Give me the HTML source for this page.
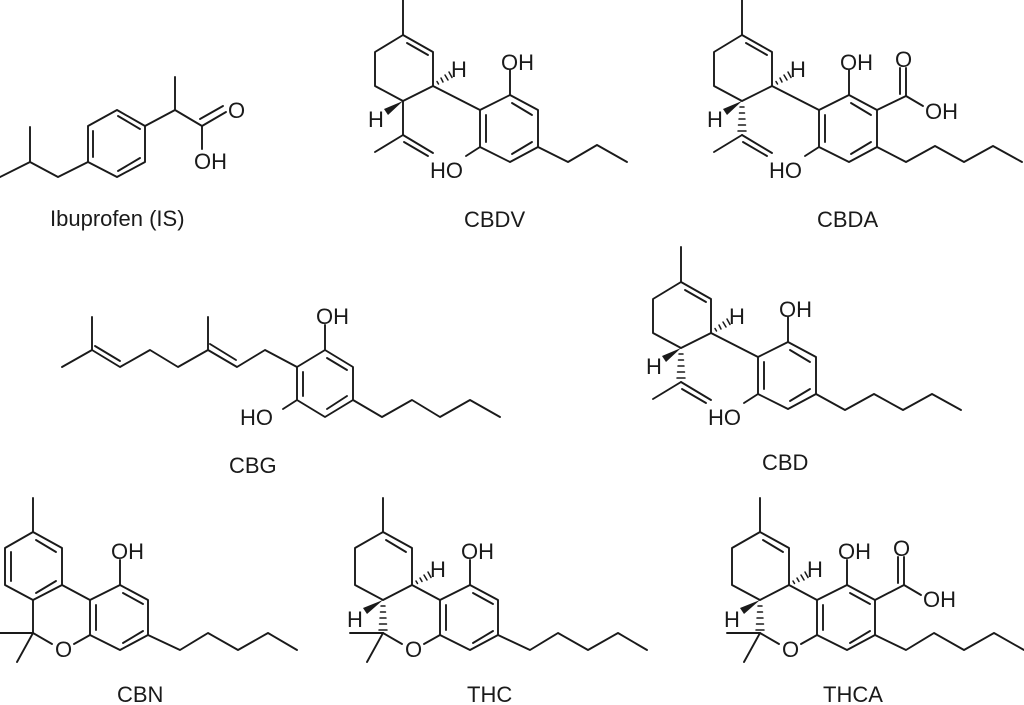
<!DOCTYPE html>
<html><head><meta charset="utf-8"><style>
html,body{margin:0;padding:0;background:#fff;}
svg{display:block;}
text{font-family:"Liberation Sans",Arial,sans-serif;fill:#1a1a1a;}
.a{font-size:22px;}
.l{font-size:22px;}
</style></head><body>
<svg width="1024" height="705" viewBox="0 0 1024 705" xmlns="http://www.w3.org/2000/svg">
<g stroke="#1a1a1a" stroke-width="1.9" fill="none" stroke-linejoin="round" stroke-linecap="round">
<polygon points="88,126 117,110 145,126 145,162 117,177 88,162"/>
<line x1="93" y1="131" x2="93" y2="157"/>
<line x1="118" y1="116" x2="140" y2="129"/>
<line x1="118" y1="171" x2="140" y2="158"/>
<polyline points="88,162 58,177 30,162 30,127"/>
<line x1="30" y1="162" x2="0" y2="177"/>
<polyline points="145,126 175,110 202,126"/>
<line x1="175" y1="110" x2="175" y2="77"/>
<line x1="202" y1="126" x2="226" y2="112"/>
<line x1="200" y1="119" x2="223" y2="106"/>
<line x1="202" y1="126" x2="202" y2="149"/>
</g>
<text class="a" x="228" y="118">O</text>
<text class="a" x="194" y="169">OH</text>
<text class="l" x="50" y="226">Ibuprofen (IS)</text>

<g>
<g stroke="#1a1a1a" stroke-width="1.9" fill="none" stroke-linejoin="round" stroke-linecap="round">
<polyline points="403,0 403,35"/>
<polygon points="403,35 433,52 433,86 403,101 375,86 375,52"/>
<line x1="407" y1="43" x2="428" y2="55"/>
<line x1="403" y1="101" x2="403" y2="135"/>
<line x1="403" y1="135" x2="375" y2="152"/>
<line x1="403" y1="135" x2="433" y2="153"/>
<line x1="404" y1="142" x2="428" y2="156"/>
<line x1="433" y1="86" x2="480" y2="110"/>
<polygon points="480,110 510,95 538,110 538,147 510,162 480,147"/>
<line x1="512" y1="103" x2="532" y2="115"/>
<line x1="532" y1="142" x2="512" y2="154"/>
<line x1="486" y1="115" x2="486" y2="142"/>
<line x1="510" y1="95" x2="510" y2="70"/>
<line x1="480" y1="147" x2="466" y2="156"/>
<polyline points="538,147 568,162 597,145 627,162"/>
<g stroke-width="1.5"><line x1="437" y1="81.5" x2="438.5" y2="84"/><line x1="441" y1="78" x2="443" y2="82"/><line x1="445" y1="75" x2="448" y2="80"/><line x1="449" y1="72" x2="452" y2="77.5"/></g>
</g>
<polygon points="403,101 384,109 388,115" fill="#1a1a1a"/>
<text class="a" x="451" y="77">H</text>
<text class="a" x="368" y="127">H</text>
<text class="a" x="501" y="70">OH</text>
<text class="a" x="430" y="178">HO</text>
</g>
<text class="l" x="464" y="227">CBDV</text>

<g transform="translate(339,0)">
<g stroke="#1a1a1a" stroke-width="1.9" fill="none" stroke-linejoin="round" stroke-linecap="round">
<polyline points="403,0 403,35"/>
<polygon points="403,35 433,52 433,86 403,101 375,86 375,52"/>
<line x1="407" y1="43" x2="428" y2="55"/>
<g stroke-width="1.5"><line x1="401" y1="107" x2="405" y2="107"/><line x1="400.5" y1="113" x2="405.5" y2="113"/><line x1="400" y1="119" x2="406" y2="119"/><line x1="399.5" y1="125" x2="406.5" y2="125"/><line x1="399" y1="131" x2="407" y2="131"/></g>
<line x1="403" y1="135" x2="375" y2="152"/>
<line x1="403" y1="135" x2="433" y2="153"/>
<line x1="404" y1="142" x2="428" y2="156"/>
<line x1="433" y1="86" x2="480" y2="110"/>
<polygon points="480,110 510,95 538,110 538,147 510,162 480,147"/>
<line x1="512" y1="103" x2="532" y2="115"/>
<line x1="532" y1="142" x2="512" y2="154"/>
<line x1="486" y1="115" x2="486" y2="142"/>
<line x1="510" y1="95" x2="510" y2="70"/>
<line x1="480" y1="147" x2="466" y2="156"/>
<line x1="538" y1="110" x2="567" y2="96"/>
<line x1="567" y1="96" x2="567" y2="68"/>
<line x1="561" y1="94" x2="561" y2="68"/>
<line x1="567" y1="96" x2="584" y2="106"/>
<polyline points="538,147 567,162 596,146 625,162 654,146 683,162"/>
<g stroke-width="1.5"><line x1="437" y1="81.5" x2="438.5" y2="84"/><line x1="441" y1="78" x2="443" y2="82"/><line x1="445" y1="75" x2="448" y2="80"/><line x1="449" y1="72" x2="452" y2="77.5"/></g>
</g>
<polygon points="403,101 384,109 388,115" fill="#1a1a1a"/>
<text class="a" x="451" y="77">H</text>
<text class="a" x="368" y="127">H</text>
<text class="a" x="501" y="70">OH</text>
<text class="a" x="430" y="178">HO</text>
<text class="a" x="556" y="67">O</text>
<text class="a" x="586" y="119">OH</text>
</g>
<text class="l" x="817" y="227">CBDA</text>

<g transform="translate(278,247)">
<g stroke="#1a1a1a" stroke-width="1.9" fill="none" stroke-linejoin="round" stroke-linecap="round">
<polyline points="403,0 403,35"/>
<polygon points="403,35 433,52 433,86 403,101 375,86 375,52"/>
<line x1="407" y1="43" x2="428" y2="55"/>
<g stroke-width="1.5"><line x1="401" y1="107" x2="405" y2="107"/><line x1="400.5" y1="113" x2="405.5" y2="113"/><line x1="400" y1="119" x2="406" y2="119"/><line x1="399.5" y1="125" x2="406.5" y2="125"/><line x1="399" y1="131" x2="407" y2="131"/></g>
<line x1="403" y1="135" x2="375" y2="152"/>
<line x1="403" y1="135" x2="433" y2="153"/>
<line x1="404" y1="142" x2="428" y2="156"/>
<line x1="433" y1="86" x2="480" y2="110"/>
<polygon points="480,110 510,95 538,110 538,147 510,162 480,147"/>
<line x1="512" y1="103" x2="532" y2="115"/>
<line x1="532" y1="142" x2="512" y2="154"/>
<line x1="486" y1="115" x2="486" y2="142"/>
<line x1="510" y1="95" x2="510" y2="70"/>
<line x1="480" y1="147" x2="466" y2="156"/>
<polyline points="538,147 567,163 596,147 625,163 654,147 683,163"/>
<g stroke-width="1.5"><line x1="437" y1="81.5" x2="438.5" y2="84"/><line x1="441" y1="78" x2="443" y2="82"/><line x1="445" y1="75" x2="448" y2="80"/><line x1="449" y1="72" x2="452" y2="77.5"/></g>
</g>
<polygon points="403,101 384,109 388,115" fill="#1a1a1a"/>
<text class="a" x="451" y="77">H</text>
<text class="a" x="368" y="127">H</text>
<text class="a" x="501" y="70">OH</text>
<text class="a" x="430" y="178">HO</text>
</g>
<text class="l" x="762" y="470">CBD</text>

<g stroke="#1a1a1a" stroke-width="1.9" fill="none" stroke-linejoin="round" stroke-linecap="round">
<polygon points="297,367 325,350 353,367 353,400 325,417 297,400"/>
<line x1="327" y1="358" x2="347" y2="370"/>
<line x1="347" y1="396" x2="327" y2="409"/>
<line x1="303" y1="372" x2="303" y2="396"/>
<line x1="325" y1="350" x2="325" y2="325"/>
<line x1="297" y1="400" x2="283" y2="409"/>
<polyline points="297,367 265,350 237,367 208,350 178,367 150,350 120,367 92,350 62,367"/>
<line x1="236" y1="360" x2="210" y2="344"/>
<line x1="120" y1="361" x2="95" y2="346"/>
<line x1="208" y1="350" x2="208" y2="317"/>
<line x1="92" y1="350" x2="92" y2="317"/>
<polyline points="353,400 382,417 412,400 440,417 470,400 500,417"/>
</g>
<text class="a" x="316" y="324">OH</text>
<text class="a" x="240" y="425">HO</text>
<text class="l" x="229" y="473">CBG</text>

<g stroke="#1a1a1a" stroke-width="1.9" fill="none" stroke-linejoin="round" stroke-linecap="round">
<line x1="33" y1="498" x2="33" y2="532"/>
<polygon points="33,532 62,548 62,585 33,600 5,585 5,548"/>
<line x1="36" y1="540" x2="56" y2="552"/>
<line x1="11" y1="552" x2="11" y2="581"/>
<line x1="56" y1="581" x2="36" y2="593"/>
<line x1="62" y1="585" x2="90" y2="600"/>
<line x1="33" y1="600" x2="33" y2="633"/>
<line x1="33" y1="633" x2="52" y2="644"/>
<line x1="74" y1="644" x2="90" y2="635"/>
<line x1="33" y1="633" x2="0" y2="633"/>
<line x1="33" y1="633" x2="17" y2="662"/>
<polygon points="90,600 120,585 148,600 148,635 120,650 90,635"/>
<line x1="96" y1="605" x2="96" y2="630"/>
<line x1="123" y1="593" x2="143" y2="604"/>
<line x1="123" y1="643" x2="143" y2="631"/>
<line x1="120" y1="585" x2="120" y2="560"/>
<polyline points="148,635 180,650 208,633 238,650 268,633 297,650"/>
</g>
<text class="a" x="55" y="657">O</text>
<text class="a" x="111" y="559">OH</text>
<text class="l" x="117" y="702">CBN</text>

<g transform="translate(350,0)">
<g stroke="#1a1a1a" stroke-width="1.9" fill="none" stroke-linejoin="round" stroke-linecap="round">
<line x1="33" y1="498" x2="33" y2="532"/>
<polygon points="33,532 62,548 62,585 33,600 5,585 5,548"/>
<line x1="36" y1="540" x2="56" y2="552"/>
<line x1="62" y1="585" x2="90" y2="600"/>
<g stroke-width="1.5"><line x1="31" y1="606" x2="35" y2="606"/><line x1="30.5" y1="612" x2="35.5" y2="612"/><line x1="30" y1="618" x2="36" y2="618"/><line x1="29.5" y1="624" x2="36.5" y2="624"/><line x1="29" y1="630" x2="37" y2="630"/></g>
<line x1="33" y1="633" x2="52" y2="644"/>
<line x1="74" y1="644" x2="90" y2="635"/>
<line x1="33" y1="633" x2="0" y2="633"/>
<line x1="33" y1="633" x2="17" y2="662"/>
<polygon points="90,600 120,585 148,600 148,635 120,650 90,635"/>
<line x1="96" y1="605" x2="96" y2="630"/>
<line x1="123" y1="593" x2="143" y2="604"/>
<line x1="123" y1="643" x2="143" y2="631"/>
<line x1="120" y1="585" x2="120" y2="560"/>
<polyline points="148,635 180,650 208,633 238,650 268,633 297,650"/>
<g stroke-width="1.5"><line x1="66" y1="581" x2="67.5" y2="583.5"/><line x1="70" y1="578" x2="72" y2="581.5"/><line x1="74" y1="575" x2="77" y2="580"/><line x1="78" y1="572" x2="81" y2="577.5"/></g>
</g>
<polygon points="33,600 13,608 17,614" fill="#1a1a1a"/>
<text class="a" x="80" y="577">H</text>
<text class="a" x="-3" y="627">H</text>
<text class="a" x="55" y="657">O</text>
<text class="a" x="111" y="559">OH</text>
</g>
<text class="l" x="467" y="702">THC</text>

<g transform="translate(727,0)">
<g stroke="#1a1a1a" stroke-width="1.9" fill="none" stroke-linejoin="round" stroke-linecap="round">
<line x1="33" y1="498" x2="33" y2="532"/>
<polygon points="33,532 62,548 62,585 33,600 5,585 5,548"/>
<line x1="36" y1="540" x2="56" y2="552"/>
<line x1="62" y1="585" x2="90" y2="600"/>
<g stroke-width="1.5"><line x1="31" y1="606" x2="35" y2="606"/><line x1="30.5" y1="612" x2="35.5" y2="612"/><line x1="30" y1="618" x2="36" y2="618"/><line x1="29.5" y1="624" x2="36.5" y2="624"/><line x1="29" y1="630" x2="37" y2="630"/></g>
<line x1="33" y1="633" x2="52" y2="644"/>
<line x1="74" y1="644" x2="90" y2="635"/>
<line x1="33" y1="633" x2="0" y2="633"/>
<line x1="33" y1="633" x2="17" y2="662"/>
<polygon points="90,600 120,585 148,600 148,635 120,650 90,635"/>
<line x1="96" y1="605" x2="96" y2="630"/>
<line x1="123" y1="593" x2="143" y2="604"/>
<line x1="123" y1="643" x2="143" y2="631"/>
<line x1="120" y1="585" x2="120" y2="560"/>
<line x1="148" y1="600" x2="177" y2="585"/>
<line x1="177" y1="585" x2="177" y2="557"/>
<line x1="171" y1="583" x2="171" y2="557"/>
<line x1="177" y1="585" x2="194" y2="595"/>
<polyline points="148,635 179,650 207,633 237,650 267,633 297,650"/>
<g stroke-width="1.5"><line x1="66" y1="581" x2="67.5" y2="583.5"/><line x1="70" y1="578" x2="72" y2="581.5"/><line x1="74" y1="575" x2="77" y2="580"/><line x1="78" y1="572" x2="81" y2="577.5"/></g>
</g>
<polygon points="33,600 13,608 17,614" fill="#1a1a1a"/>
<text class="a" x="80" y="577">H</text>
<text class="a" x="-3" y="627">H</text>
<text class="a" x="55" y="657">O</text>
<text class="a" x="111" y="559">OH</text>
<text class="a" x="166" y="556">O</text>
<text class="a" x="196" y="607">OH</text>
</g>
<text class="l" x="823" y="702">THCA</text>
</svg>
</body></html>
